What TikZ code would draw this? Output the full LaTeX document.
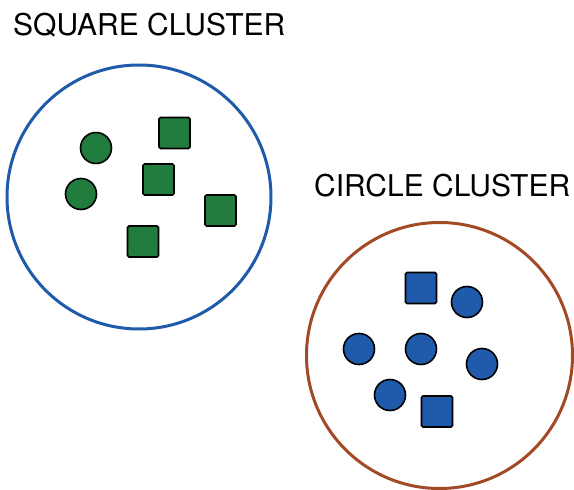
\documentclass[tikz,border=0pt]{standalone}
\usepackage{fontspec}
\setmainfont{TeX Gyre Heros}
\definecolor{grn}{RGB}{33,124,62}
\definecolor{blu}{RGB}{31,91,170}
\definecolor{brn}{RGB}{162,74,38}

\begin{document}
\begin{tikzpicture}[x=1pt,y=-1pt,
    sq/.style={draw=black,line width=1.6pt,rounded corners=1.5pt,
      minimum size=31pt,inner sep=0pt},
    dot/.style={draw=black,line width=1.6pt,circle,
      minimum size=31pt,inner sep=0pt},
    lbl/.style={font=\fontsize{30}{34}\selectfont,anchor=base west,inner sep=0pt}]
  \useasboundingbox (0,0) rectangle (574,490);

  % labels
  \node (sqlbl) [lbl] at (13,35) {SQUARE CLUSTER};
  \node (cilbl) [lbl] at (314,196) {CIRCLE CLUSTER};

  % the two clusters
  \node (sqc) [draw=blu,line width=3pt,circle,minimum size=264pt] at (139,197) {};
  \node (cic) [draw=brn,line width=3pt,circle,minimum size=266pt] at (439.5,355.5) {};

  % green members
  \node (g1) [dot,fill=grn] at (96,148) {};
  \node (g2) [dot,fill=grn] at (81,194) {};
  \node (g3) [sq,fill=grn] at (174.5,133) {};
  \node (g4) [sq,fill=grn] at (158.5,179.5) {};
  \node (g5) [sq,fill=grn] at (220.5,210.5) {};
  \node (g6) [sq,fill=grn] at (143,241.5) {};

  % blue members
  \node (b1) [sq,fill=blu] at (421,288) {};
  \node (b2) [dot,fill=blu] at (467,302) {};
  \node (b3) [dot,fill=blu] at (359,349) {};
  \node (b4) [dot,fill=blu] at (421,349) {};
  \node (b5) [dot,fill=blu] at (482,364) {};
  \node (b6) [dot,fill=blu] at (390,395) {};
  \node (b7) [sq,fill=blu] at (437,411.5) {};
\end{tikzpicture}
\end{document}
